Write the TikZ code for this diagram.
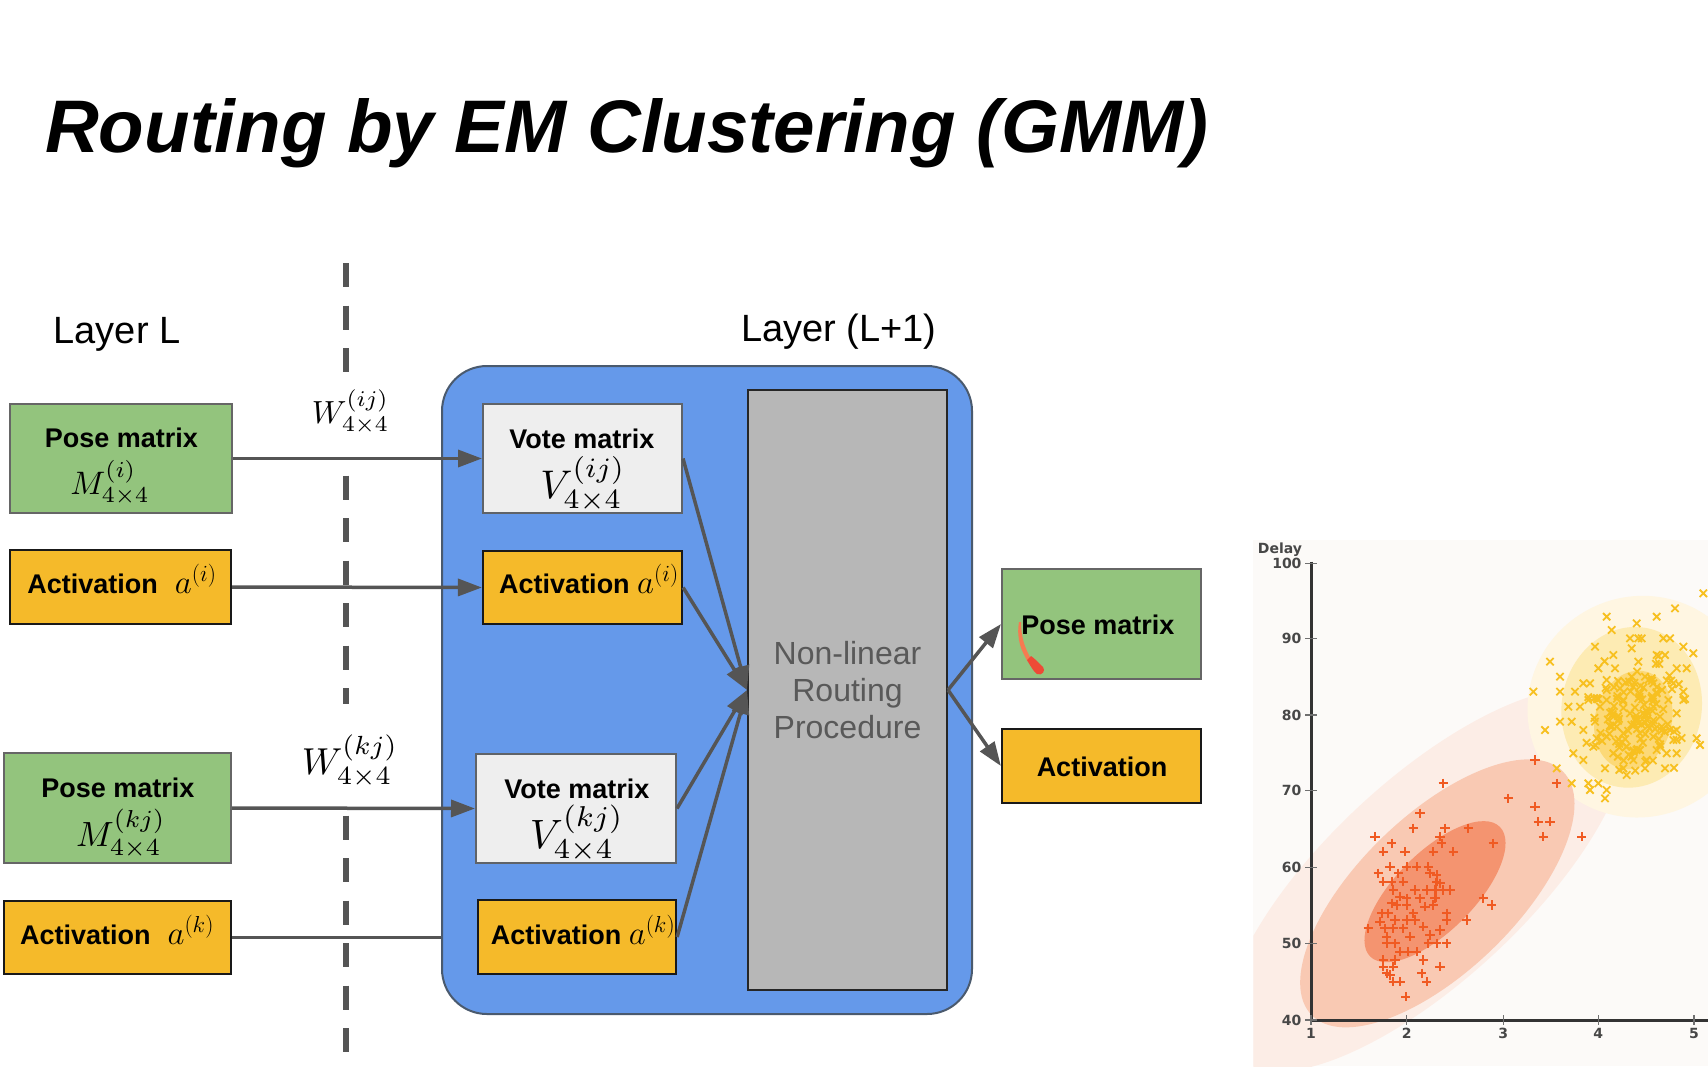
\RequirePackage{fix-cm}
\documentclass[tikz,border=0pt]{standalone}
\usepackage[no-math]{fontspec}
\setmainfont{Liberation Sans}
\newfontfamily\dejavu{DejaVu Sans}
\usetikzlibrary{arrows.meta}
\definecolor{poseGreen}{HTML}{93C47D}
\definecolor{greenBorder}{HTML}{666666}
\definecolor{actYellow}{HTML}{F5BA2A}
\definecolor{voteGray}{HTML}{EEEEEE}
\definecolor{voteBorder}{HTML}{5F6368}
\definecolor{layerBlue}{HTML}{6599EA}
\definecolor{blueBorder}{HTML}{4A5A6E}
\definecolor{routeGray}{HTML}{B7B7B7}
\definecolor{arrowGray}{HTML}{555555}
\definecolor{procText}{HTML}{595959}
\definecolor{plotBg}{HTML}{FCFAF8}
\definecolor{pinkOuter}{HTML}{FCEDE6}
\definecolor{pinkMid}{HTML}{F9C9B3}
\definecolor{pinkInner}{HTML}{F49470}
\definecolor{yelOuter}{HTML}{FFF6E2}
\definecolor{yelMid}{HTML}{FDEBB3}
\definecolor{yelInner}{HTML}{FCD978}
\definecolor{orMark}{HTML}{F05A22}
\definecolor{yeMark}{HTML}{F7C020}
\definecolor{axisCol}{HTML}{333333}
\definecolor{strokeRed}{HTML}{EE4A36}
\newcommand\lblfont{\bfseries\fontsize{27}{30}\selectfont}
\newcommand\msz[1]{\fontsize{#1}{#1}\selectfont}
\begin{document}
\begin{tikzpicture}[x=1pt,y=-1pt,
  bx/.style 2 args={inner sep=0pt, minimum width=#1pt, minimum height=#2pt},
  greenb/.style={fill=poseGreen, draw=greenBorder, line width=2pt},
  yellowb/.style={fill=actYellow, draw=black!90, line width=2.2pt},
  voteb/.style={fill=voteGray, draw=voteBorder, line width=2pt},
  lbl/.style={font=\lblfont, inner sep=0pt, anchor=base},
  mth/.style={inner sep=0pt, anchor=base, font=\msz{10}},
  arr/.style={draw=arrowGray, line width=3.5pt, -{Triangle[length=24pt,width=17pt]}},
  plainln/.style={draw=arrowGray, line width=3.5pt},
  dashln/.style={draw=arrowGray, line width=6pt, dash pattern=on 24pt off 18.5pt},
  pmark/.style={draw=orMark, line width=1.8pt},
  xmark/.style={draw=yeMark, line width=1.8pt},
  ticklbl/.style={font=\dejavu\bfseries\fontsize{14}{14}\selectfont, text=axisCol!90, inner sep=0pt}
]
\useasboundingbox (0,0) rectangle (1708,1066);
\fill[white] (0,0) rectangle (1708,1066);

% title
\node[anchor=base west, inner sep=0pt, font=\bfseries\itshape\fontsize{74.5}{80}\selectfont] (title) at (45,152) {Routing by EM Clustering (GMM)};
\node[anchor=base, inner sep=0pt, font=\fontsize{38}{40}\selectfont] (layerL) at (117,343) {Layer L};
\node[anchor=base, inner sep=0pt, font=\fontsize{38}{40}\selectfont] (layerL1) at (839,341) {Layer (L+1)};

% dashed separator (interrupted behind the weight labels)
\coordinate (dtop) at (346,263);
\coordinate (dbot) at (346,1057);
\draw[dashln] (dtop) -- (dbot);
\fill[white] (330,373) rectangle (362,457);
\fill[white] (330,704) rectangle (362,807);
\node[mth, scale=3.2] (wij) at (350.5,423) {$W^{(ij)}_{4\times4}$};
\node[mth, scale=3.75] (wkj) at (350,774) {$W^{(kj)}_{4\times4}$};

% left layer boxes
\node[greenb, bx={222}{109}] (posei) at (121,458.5) {};
\node[lbl] (poseitxt) at (121.5,447) {Pose matrix};
\node[mth, scale=3.25] (poseimath) at (110,494) {$M^{(i)}_{4\times4}$};

\node[yellowb, bx={221}{74}] (acti) at (120.5,587) {};
\node[lbl] (actitxt) at (122,593) {Activation\hspace{17pt}{\mdseries\msz{33}$a^{(i)}$}};

\node[greenb, bx={227}{110}] (posek) at (117.5,808) {};
\node[lbl] (posektxt) at (118,797) {Pose matrix};
\node[mth, scale=3.5] (posekmath) at (121,846) {$M^{(kj)}_{4\times4}$};

\node[yellowb, bx={227}{73}] (actk) at (117.5,937.5) {};
\node[lbl] (actktxt) at (117,944) {Activation\hspace{17pt}{\mdseries\msz{33}$a^{(k)}$}};

% layer L+1
\node[draw=blueBorder, fill=layerBlue, line width=2pt, rounded corners=45pt, bx={530}{648}] (layer) at (707,690) {};

\node[voteb, bx={199}{109}] (votei) at (582.5,458.5) {};
\node[lbl] (voteitxt) at (582,448) {Vote matrix};
\node[mth, scale=4.0] (voteimath) at (583,498) {$V^{(ij)}_{4\times4}$};

\node[yellowb, bx={199}{73}] (actin) at (582.5,587.5) {};
\node[lbl] (actintxt) at (589,593) {Activation {\mdseries\msz{33}$a^{(i)}$}};

\node[voteb, bx={200}{109}] (votek) at (576,808.5) {};
\node[lbl] (votektxt) at (577,798) {Vote matrix};
\node[mth, scale=4.1] (votekmath) at (577,848) {$V^{(kj)}_{4\times4}$};

\node[yellowb, bx={198}{74}] (actkn) at (577,937) {};
\node[lbl] (actkntxt) at (583,944) {Activation {\mdseries\msz{33}$a^{(k)}$}};

\node[draw=black!85, fill=routeGray, line width=2pt, bx={199}{600}] (route) at (847.5,690) {};
\node[inner sep=0pt, align=center, text=procText, font=\fontsize{32}{37}\selectfont] (routetxt) at (847.5,690.5) {Non-linear\\Routing\\Procedure};

% outputs
\node[greenb, bx={199}{110}] (poseout) at (1101.5,624) {};
\node[lbl] (poseouttxt) at (1098,634) {Pose matrix};
\node[yellowb, bx={199}{74}] (actout) at (1101.5,766) {};
\node[lbl] (actouttxt) at (1102,776) {Activation};
\fill[strokeRed!70!orange!80] (1019,622) .. controls (1016,640) and (1022,652) .. (1028,662) -- (1031,659) .. controls (1025,648) and (1021,638) .. (1021,622) -- cycle;
\fill[strokeRed] (1027,660) .. controls (1031,667) and (1034,672) .. (1037,674) .. controls (1042,676) and (1046,671) .. (1043,667) .. controls (1038,662) and (1034,658) .. (1031,656) -- cycle;

% connectors
\draw[arr] (posei.east) -- (votei.west);
\draw[arr] (acti.east) -- (actin.west);
\draw[arr] (posek.east) -- (votek.west);
\coordinate (actkend) at (actk.east -| layer.west);
\draw[plainln] (actk.east) -- (actkend);
\draw[arr] (votei.east) -- (route.west);
\draw[arr] (actin.east) -- (route.west);
\draw[arr] (votek.east) -- (route.west);
\draw[arr] (actkn.east) -- (route.west);
\draw[arr] (route.east) -- (poseout.west);
\draw[arr] (route.east) -- (actout.west);

% GMM scatter plot (coordinates in 1/3 px units)
\begin{scope}[shift={(1240,520)}, scale=1/3]
\fill[plotBg] (40,60) rectangle (1404,1638);
\begin{scope}
\clip (40,60) rectangle (1404,1638);
\fill[pinkOuter, rotate around={43:(560,1080)}] (560,1080) ellipse [x radius=780, y radius=300];
\fill[yelOuter, rotate around={30:(1200,560)}] (1200,560) ellipse [x radius=340, y radius=330];
\fill[pinkMid, rotate around={44:(592,1120)}] (592,1120) ellipse [x radius=525, y radius=235];
\fill[pinkInner, rotate around={45:(585,1115)}] (585,1115) ellipse [x radius=275, y radius=118];
\fill[yelMid, rotate around={-10:(1175,562)}] (1175,562) ellipse [x radius=210, y radius=242];
\fill[yelInner, rotate around={-15:(1180,600)}] (1180,600) ellipse [x radius=115, y radius=150];
\end{scope}
% axes
\draw[axisCol, line width=3pt] (213,125) -- (213,1500) -- (1404,1500);
\foreach \yy/\lab in {130/100,355/90,585/80,812/70,1042/60,1270/50,1500/40}{
  \draw[axisCol!70, line width=1.5pt] (195,\yy) -- (232,\yy);
  \node[ticklbl, anchor=east] at (185,\yy) {\lab};
}
\foreach \xx/\lab in {213/1,500/2,790/3,1075/4,1362/5}{
  \draw[axisCol!70, line width=1.5pt] (\xx,1485) -- (\xx,1515);
  \node[ticklbl, anchor=north] at (\xx,1525) {\lab};
}
\node[ticklbl] (delay) at (120,88) {Delay};
% orange markers
\foreach \p in {(405,950),(455,970),(430,995),(495,995),(540,880),(520,925),(610,790),(600,950),(615,925),(640,995),(580,995),(605,970),(685,925),(760,970),(805,835),(885,720),(885,860),(895,905),(930,905),(910,950),(950,790),(1025,950),(730,1135),(755,1155),(680,1200),(415,1060),(450,1040),(475,1060),(500,1040),(530,1040),(565,1040),(590,1065),(570,1060),(430,1085),(455,1085),(490,1085),(525,1110),(560,1110),(585,1110),(610,1110),(630,1110),(500,1135),(470,1155),(500,1155),(555,1160),(580,1155),(425,1180),(445,1180),(465,1200),(500,1200),(525,1200),(550,1220),(620,1180),(620,1200),(385,1225),(435,1225),(460,1225),(490,1225),(510,1250),(570,1245),(440,1250),(465,1270),(440,1270),(480,1295),(505,1295),(530,1295),(565,1270),(590,1270),(620,1270),(430,1320),(465,1320),(550,1320),(430,1340),(460,1340),(600,1340),(440,1360),(450,1365),(545,1360),(460,1385),(480,1385),(560,1385),(497,1430),(420,1205),(455,1150),(480,1130),(520,1180),(600,1230),(540,1135),(600,1090),(460,1110),(585,1135),(590,1085)}{
  \draw[pmark] \p ++(-14,0) -- ++(28,0) ++(-14,-14) -- ++(0,28);
}
\draw[pmark, line width=2.2pt] (550,1110) -- (625,1110) (587,1075) -- (587,1145);
% yellow markers
\foreach \p in {(1390,220),(1100,290),(1190,310),(1250,290),(1305,265),(1115,330),(1065,380),(1120,405),(1170,355),(1195,355),(1205,355),(1270,355),(1290,355),(1330,380),(1360,400),(1250,405),(1275,405),(1175,385),(1195,425),(1310,445),(1340,445),(930,425),(960,470),(880,515),(960,515),(1005,515),(1030,490),(1050,490),(1075,445),(1125,445),(1175,470),(1215,470),(1240,490),(1300,490),(1330,515),(1330,540),(985,560),(1020,560),(1045,540),(1100,540),(1150,540),(1200,520),(1250,520),(1285,540),(1310,580),(960,605),(995,605),(915,630),(1030,630),(1065,605),(1120,590),(1170,580),(1210,580),(1260,590),(1290,630),(1310,630),(1300,660),(1280,700),(1310,700),(1370,655),(1380,675),(1000,700),(1030,720),(1060,680),(1100,650),(1150,640),(1200,640),(1240,650),(1180,720),(1220,720),(1150,745),(1095,745),(1160,765),(1215,745),(1275,745),(950,745),(995,790),(1045,790),(1075,790),(1050,810),(1100,810),(1095,835),(1120,700),(1160,680),(1250,690),(1080,560),(1130,620),(1195,610),(1240,560),(1265,620),(1070,655),(1200,690),(1140,505),(1180,500),(1220,600),(1100,480)}{
  \draw[xmark] \p ++(-11,-11) -- ++(22,22) ++(0,-22) -- ++(-22,22);
}
\pgfmathsetseed{12}
\foreach \i in {1,...,120}{
  \pgfmathsetmacro\xx{1180+70*(rand+rand+rand)}
  \pgfmathsetmacro\yy{590+80*(rand+rand+rand)}
  \draw[xmark] (\xx,\yy) ++(-11,-11) -- ++(22,22) ++(0,-22) -- ++(-22,22);
}
\end{scope}
\end{tikzpicture}
\end{document}
